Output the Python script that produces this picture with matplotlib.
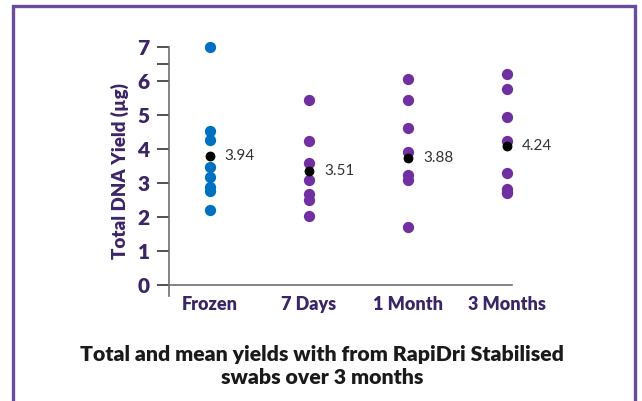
import matplotlib
matplotlib.use("Agg")
import matplotlib.pyplot as plt
from matplotlib.patches import Rectangle
from matplotlib.ticker import FixedLocator

categories = ["Frozen", "7 Days", "1 Month", "3 Months"]
frozen = [7.0, 4.53, 4.28, 3.48, 3.17, 2.89, 2.76, 2.21]
days7 = [5.44, 4.25, 3.58, 3.09, 2.67, 2.50, 2.04]
month1 = [6.05, 5.44, 4.63, 3.92, 3.24, 3.09, 1.70]
month3 = [6.20, 5.76, 4.95, 4.25, 3.31, 2.84, 2.75, 2.70]
series = [frozen, days7, month1, month3]
means = [3.79, 3.35, 3.73, 4.09]
mean_labels = ["3.94", "3.51", "3.88", "4.24"]
yticks = [0, 1, 2, 3, 4, 5, 6, 7]
title = "Total and mean yields with from RapiDri Stabilised\nswabs over 3 months"
ylabel = "Total DNA Yield (µg)"

dot_colors = ["#0070c0", "#7030a0", "#7030a0", "#7030a0"]
txt_purple = "#3b2566"
axis_gray = "#6e6e6e"

plt.rcParams['font.family'] = ['Lato', 'DejaVu Sans']

fig = plt.figure(figsize=(6.42, 4.01), dpi=100)
# frame
fig.patches.append(Rectangle((12.5/642, -0.05), (635 - 12.5)/642, 1.05 - 6/401,
                             transform=fig.transFigure, fill=False,
                             edgecolor="#6a4c9f", linewidth=2.4))

# axes: x from 169 to 512 px, y=7 at 47 px, y=-0.32 at 296 px
left, right = 169/642, 512/642
y_top_px, y_bot_px = 47, 296
ax = fig.add_axes([left, 1 - y_bot_px/401, right - left, (y_bot_px - y_top_px)/401])
ax.set_xlim(-0.414, 3.05)
ax.set_ylim(-0.32, 7.0)

for i, vals in enumerate(series):
    ax.scatter([i]*len(vals), vals, s=66, color=dot_colors[i], zorder=3,
               linewidths=0, clip_on=False)
    ax.scatter([i], [means[i]], s=50, color="black", zorder=4, linewidths=0,
               clip_on=False)
    ax.text(i + 0.15, means[i], mean_labels[i], fontsize=11, color="#333333",
            va="center", ha="left", zorder=5)

for s in ["top", "right"]:
    ax.spines[s].set_visible(False)
ax.spines["bottom"].set_position(("data", 0))
ax.spines["bottom"].set_color(axis_gray)
ax.spines["left"].set_color(axis_gray)
ax.spines["bottom"].set_linewidth(1.2)
ax.spines["left"].set_linewidth(1.2)

ax.set_yticks(yticks)
ax.yaxis.set_minor_locator(FixedLocator([6.5]))
ax.tick_params(axis="y", which="both", length=9, width=1.2, color="#333333",
               labelsize=15, labelcolor=txt_purple, pad=5)
for lab in ax.get_yticklabels():
    lab.set_fontweight("heavy")
ax.set_xticks(range(len(categories)))
ax.set_xticklabels(categories, fontsize=13, fontweight="heavy", color=txt_purple)
ax.tick_params(axis="x", length=0, pad=8)
ax.set_ylabel(ylabel, fontsize=13.5, fontweight="heavy", color=txt_purple, labelpad=6)

fig.text(322/642, 1 - 366/401, title, ha="center", va="center", fontsize=15.3,
         fontweight="heavy", color="#1a1a1a", linespacing=1.3)

fig.savefig("out.png", dpi=100)
